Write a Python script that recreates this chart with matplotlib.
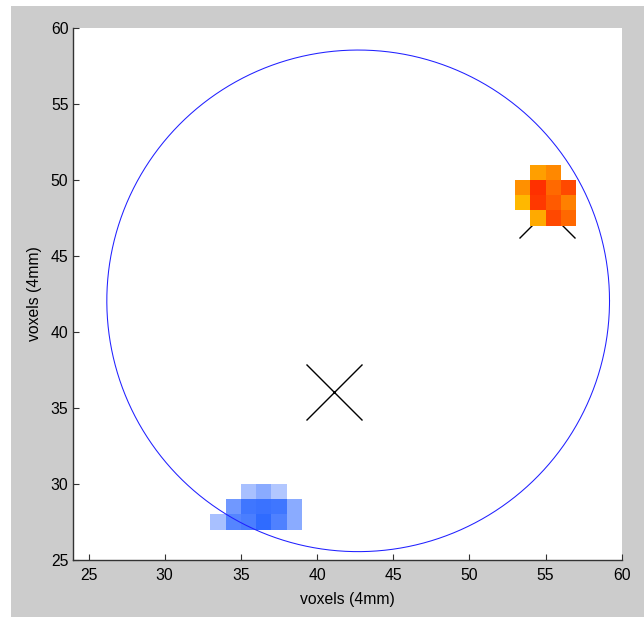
import numpy as np
import matplotlib
matplotlib.use("Agg")
import matplotlib.pyplot as plt
from matplotlib.colors import LinearSegmentedColormap
from matplotlib.patches import Rectangle

plt.rcParams['font.family'] = ['Liberation Sans', 'DejaVu Sans']

# ---- data ----
xlim = (24, 60)
ylim = (25, 60)
xticks = [25, 30, 35, 40, 45, 50, 55, 60]
yticks = [25, 30, 35, 40, 45, 50, 55, 60]

# red/orange cluster: voxel centres and intensities (NaN = empty)
red_x = [53.5, 54.5, 55.5, 56.5]
red_y = [47.5, 48.5, 49.5, 50.5]
red_vals = [
    [np.nan, 0.14, 0.75, 0.55],   # y = 47.5
    [0.05,   0.85, 0.64, 0.40],   # y = 48.5
    [0.30,   0.90, 0.54, 0.74],   # y = 49.5
    [np.nan, 0.21, 0.35, np.nan], # y = 50.5
]

# blue cluster
blue_x = [33.5, 34.5, 35.5, 36.5, 37.5, 38.5]
blue_y = [27.5, 28.5, 29.5]
blue_vals = [
    [0.09,   0.71,   0.79, 0.99, 0.75, 0.31],    # y = 27.5
    [np.nan, 0.51,   0.87, 0.91, 0.87, 0.31],    # y = 28.5
    [np.nan, np.nan, 0.09, 0.31, 0.015, np.nan], # y = 29.5
]

circle_center = (42.7, 42.05)
circle_radius = 16.5

cross_x = [41.1, 55.07]
cross_y = [36.05, 48.0]

# ---- figure ----
fig = plt.figure(figsize=(6.44, 6.17), dpi=100)
fig.patch.set_facecolor('white')
fig.patches.append(Rectangle((11/644, 0), 1 - 11/644, 611/617,
                             transform=fig.transFigure, facecolor='#cccccc',
                             edgecolor='none', zorder=-10))

ax = fig.add_axes([73.3/644, 57/617, (621.7-73.3)/644, (560-28)/617])
ax.set_facecolor('white')

def edges(c):
    c = np.asarray(c, float)
    return np.concatenate([c - 0.5, [c[-1] + 0.5]])

# crosses (drawn below clusters)
ax.plot(cross_x, cross_y, linestyle='none', marker='x', markersize=40,
        markeredgewidth=1.0, color='black', zorder=1)

red_cmap = LinearSegmentedColormap.from_list('redc', ['#ffc000', '#ff2000'])
blue_cmap = LinearSegmentedColormap.from_list('bluec', ['#b4c8ff', '#2e6aff'])

ax.pcolormesh(edges(red_x), edges(red_y), np.ma.masked_invalid(np.array(red_vals)),
              cmap=red_cmap, vmin=0, vmax=1, zorder=2, edgecolors='none')
ax.pcolormesh(edges(blue_x), edges(blue_y), np.ma.masked_invalid(np.array(blue_vals)),
              cmap=blue_cmap, vmin=0, vmax=1, zorder=2, edgecolors='none')

theta = np.linspace(0, 2*np.pi, 400)
ax.plot(circle_center[0] + circle_radius*np.cos(theta),
        circle_center[1] + circle_radius*np.sin(theta),
        color='#2020ff', linewidth=0.75, zorder=3)

ax.set_xlim(*xlim)
ax.set_ylim(*ylim)
ax.set_xticks(xticks)
ax.set_yticks(yticks)
for s in ['top', 'right']:
    ax.spines[s].set_visible(False)
for s in ['left', 'bottom']:
    ax.spines[s].set_color('#333333')
    ax.spines[s].set_linewidth(1.0)
ax.tick_params(direction='in', length=4, width=0.8, color='#333333',
               labelsize=11.3, labelcolor='black')
ax.tick_params(axis='x', pad=6)
ax.set_xlabel('voxels (4mm)', fontsize=11.3, labelpad=6)
ax.set_ylabel('voxels (4mm)', fontsize=11.3, labelpad=6)

fig.savefig('out.png', dpi=100, facecolor=fig.get_facecolor())
